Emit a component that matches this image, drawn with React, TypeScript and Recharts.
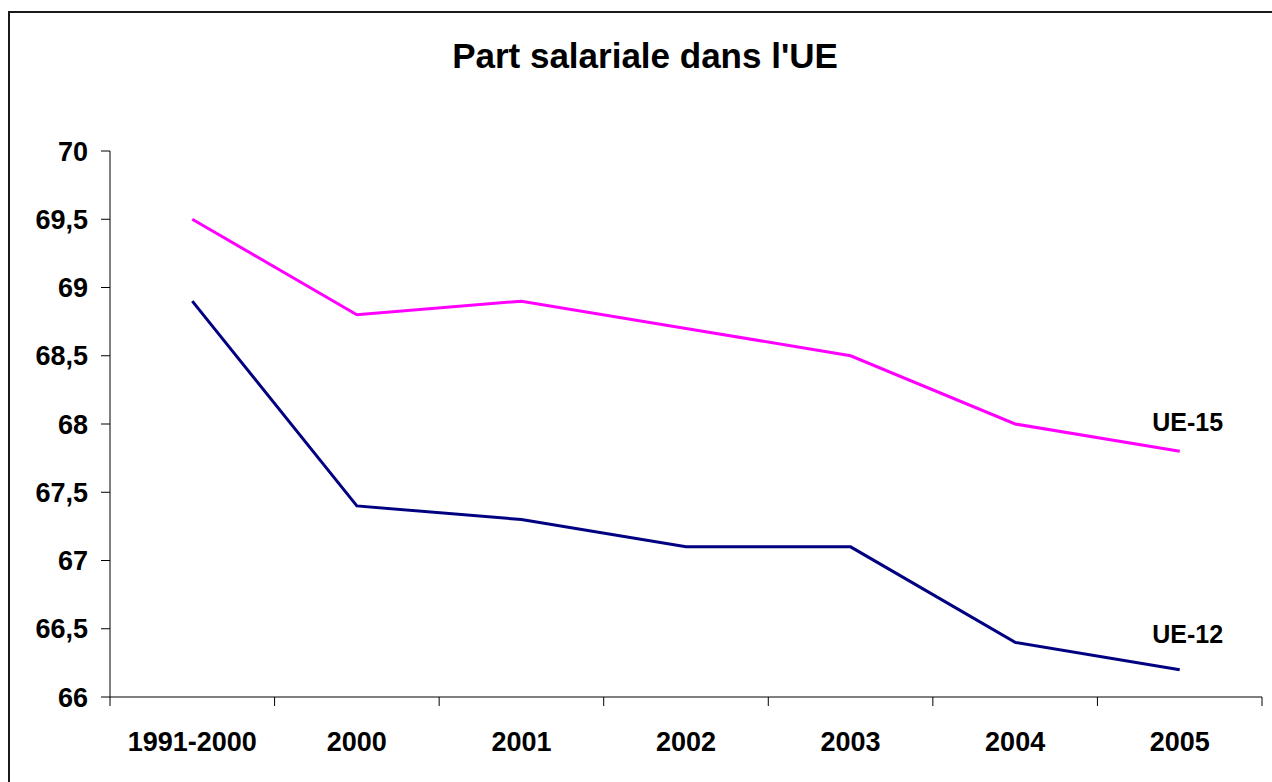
import { LineChart, Line, XAxis, YAxis } from 'recharts'

const categories = ['1991-2000', '2000', '2001', '2002', '2003', '2004', '2005']
const ue15 = [69.5, 68.8, 68.9, 68.7, 68.5, 68.0, 67.8]
const ue12 = [68.9, 67.4, 67.3, 67.1, 67.1, 66.4, 66.2]
const yTicks = [66, 66.5, 67, 67.5, 68, 68.5, 69, 69.5, 70]

const data = categories.map((cat, i) => ({ cat, ue15: ue15[i], ue12: ue12[i] }))

const FONT = 'Arial, "Liberation Sans", sans-serif'
const W = 1272
const H = 782
const PLOT_LEFT = 110
const PLOT_RIGHT = 1262
const HALF_BAND = (PLOT_RIGHT - PLOT_LEFT) / categories.length / 2

// x ticks: label at band centre, tick mark at band boundaries
const XTick = (props: any) => {
  const { x, y, payload, index } = props
  const last = index === categories.length - 1
  return (
    <g>
      <line x1={x - HALF_BAND} x2={x - HALF_BAND} y1={y} y2={y + 9} stroke="#000" />
      {last && <line x1={x + HALF_BAND} x2={x + HALF_BAND} y1={y} y2={y + 9} stroke="#000" />}
      <text x={x} y={y + 54} textAnchor="middle" fontFamily={FONT} fontSize={27} fontWeight="bold" fill="#000">
        {payload.value}
      </text>
    </g>
  )
}

// series name written next to the last point
const endLabel = (name: string, dy: number) => (props: any) => {
  const { x, y, index } = props
  if (index !== categories.length - 1) return null
  return (
    <text x={x + 8} y={y + dy} textAnchor="middle" fontFamily={FONT} fontSize={25} fontWeight="bold" fill="#000">
      {name}
    </text>
  )
}

const App = () => {
  return (
    <div style={{ position: 'fixed', left: 0, top: 0, width: W, height: H, overflow: 'hidden', background: '#fff' }}>
      <div style={{
        position: 'absolute',
        left: 8,
        top: 11,
        width: 1400,
        height: 900,
        border: '2px solid #1a1a1a'
      }} />
      <div style={{
        position: 'absolute',
        left: 0,
        width: 1290,
        top: 38,
        textAlign: 'center',
        fontFamily: FONT,
        fontSize: 35,
        fontWeight: 'bold',
        lineHeight: 1,
        color: '#000'
      }}>
        Part salariale dans l'UE
      </div>
      <div style={{ position: 'absolute', left: 0, top: 0 }}>
        <LineChart width={W} height={H} data={data} margin={{ top: 151, right: W - PLOT_RIGHT, bottom: 0, left: 0 }}>
          <XAxis
            dataKey="cat"
            height={85}
            padding={{ left: HALF_BAND, right: HALF_BAND }}
            axisLine={{ stroke: '#000' }}
            tickLine={false}
            tickSize={0}
            tickMargin={0}
            tick={<XTick />}
            interval={0}
          />
          <YAxis
            width={PLOT_LEFT}
            domain={[66, 70]}
            ticks={yTicks}
            interval={0}
            tickSize={9}
            tickMargin={13}
            axisLine={{ stroke: '#000' }}
            tickLine={{ stroke: '#000' }}
            tickFormatter={(v: number) => String(v).replace('.', ',')}
            tick={{ fontFamily: FONT, fontSize: 27, fontWeight: 'bold', fill: '#000' }}
          />
          <Line
            dataKey="ue15"
            stroke="#ff00ff"
            strokeWidth={3}
            dot={false}
            isAnimationActive={false}
            label={endLabel('UE-15', -20)}
          />
          <Line
            dataKey="ue12"
            stroke="#000080"
            strokeWidth={3}
            dot={false}
            isAnimationActive={false}
            label={endLabel('UE-12', -27)}
          />
        </LineChart>
      </div>
    </div>
  )
}

export default App
